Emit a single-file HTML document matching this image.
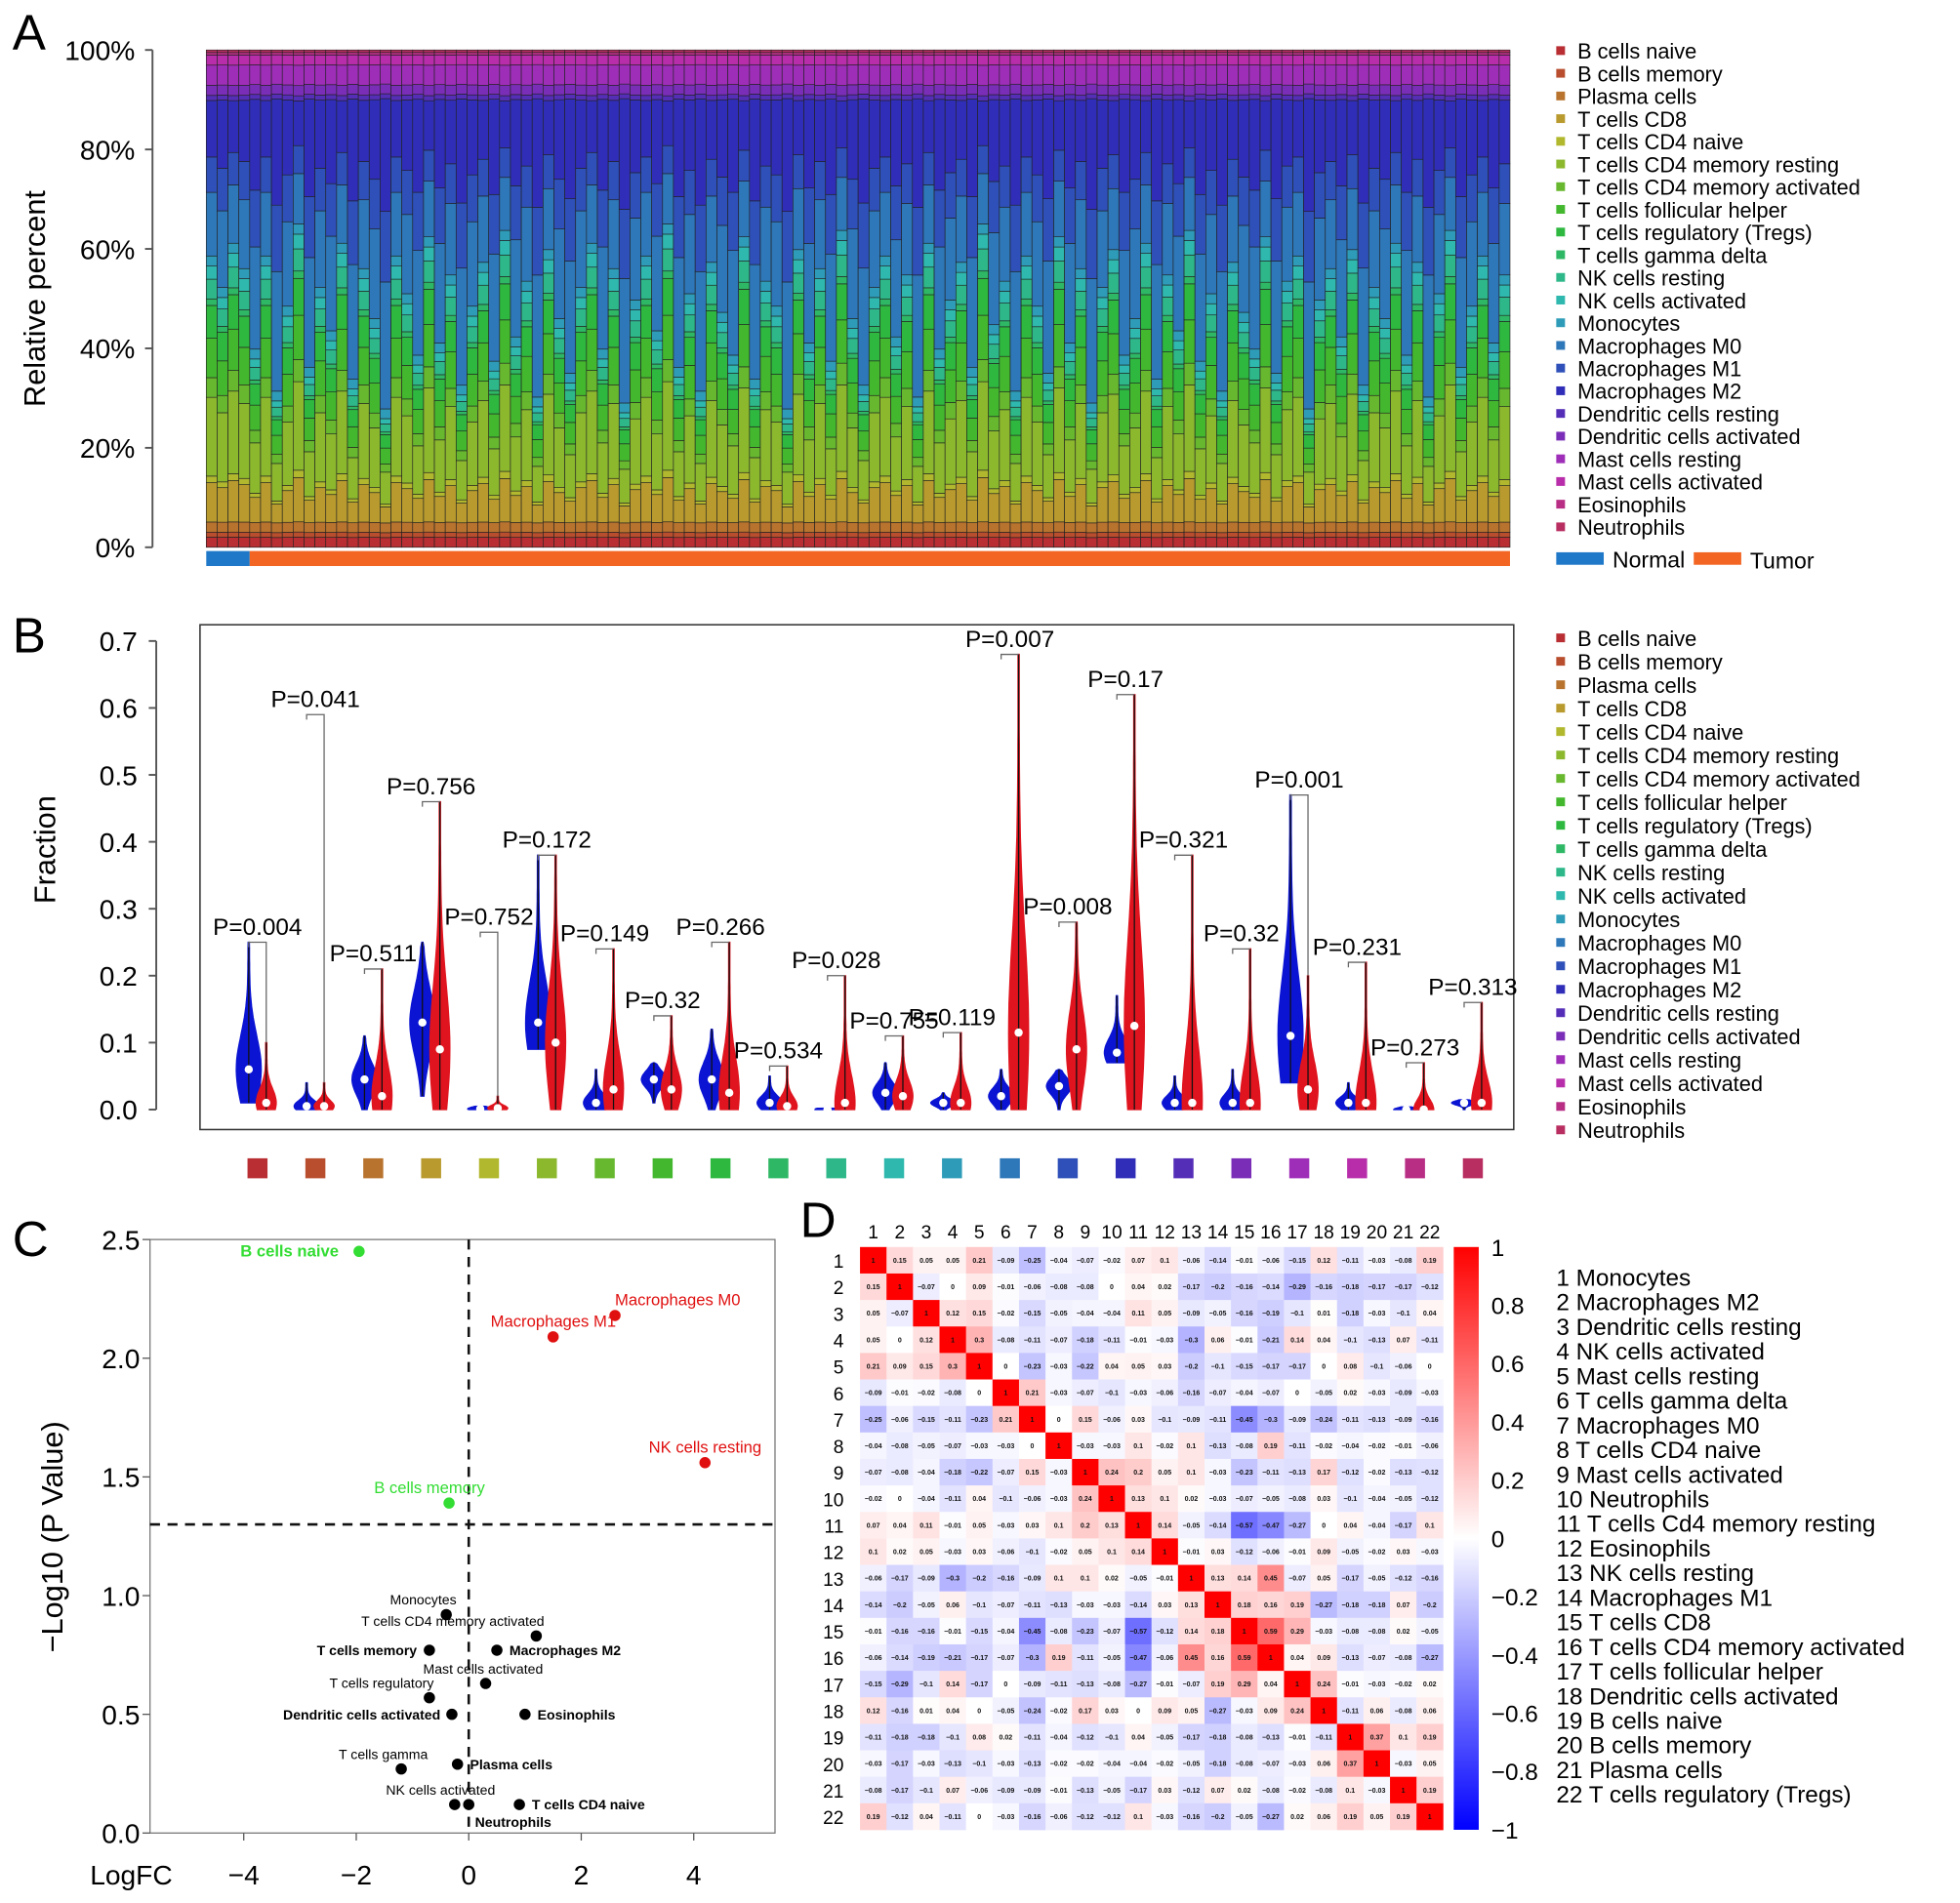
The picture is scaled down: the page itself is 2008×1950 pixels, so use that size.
<!DOCTYPE html>
<html><head><meta charset="utf-8"><style>
html,body{margin:0;padding:0;background:#fff}
svg{display:block;font-family:"Liberation Sans",Arial,sans-serif}
</style></head><body>
<svg id="fig" width="2008" height="1950" viewBox="0 0 1568 1523" preserveAspectRatio="none" xmlns="http://www.w3.org/2000/svg">
<g id="pA"></g>
<g id="pB"></g>
<g id="pC"></g>
<g id="pD"></g>
</svg>
<script>
const cellTypes=["B cells naive","B cells memory","Plasma cells","T cells CD8","T cells CD4 naive","T cells CD4 memory resting","T cells CD4 memory activated","T cells follicular helper","T cells regulatory (Tregs)","T cells gamma delta","NK cells resting","NK cells activated","Monocytes","Macrophages M0","Macrophages M1","Macrophages M2","Dendritic cells resting","Dendritic cells activated","Mast cells resting","Mast cells activated","Eosinophils","Neutrophils"];
const meanComposition=[0.02,0.01,0.02,0.06,0.01,0.12,0.03,0.06,0.05,0.01,0.03,0.02,0.02,0.18,0.1,0.16,0.01,0.02,0.04,0.02,0.005,0.005];
const sampleShift=[0.1,0.05,0.12,0.08,-0.05,0.1,-0.12,0.02,0.15,-0.08,0.05,-0.02,0.12,-0.1,0.08,0.0,-0.15,0.1,0.04,-0.06,0.13,-0.04,0.07,-0.11,0.02,0.09,-0.07,0.14,-0.03,0.06,-0.13,0.11,0.0,-0.09,0.05,0.12,-0.05,0.08,-0.14,0.03,0.1,-0.02,0.15,-0.08,0.04,-0.12,0.09,0.01,-0.06,0.13,-0.1,0.06,0.02,-0.15,0.11,-0.04,0.08,-0.07,0.14,0.0,-0.11,0.05,0.1,-0.03,0.07,-0.13,0.12,-0.05,0.03,0.09,-0.08,0.15,-0.01,0.06,-0.12,0.1,0.02,-0.09,0.13,-0.04,0.08,-0.14,0.05,0.11,-0.06,0.0,0.12,-0.1,0.07,-0.02,0.14,-0.07,0.04,-0.12,0.09,0.01,-0.05,0.13,-0.09,0.06,0.1,-0.15,0.03,0.08,-0.03,0.11,-0.11,0.05,0.0,0.12,-0.06,0.09,-0.13,0.04,0.14,-0.08,0.02,0.1,-0.04,0.07];
const normalCount=4;
const yTicksA=["0%","20%","40%","60%","80%","100%"];
// Panel B
const bBlueMin=[0.01,0,0,0.02,0,0.09,0,0.01,0,0,0,0,0,0,0,0.07,0,0,0.04,0,0,0];
const bBlueMax=[0.25,0.04,0.11,0.25,0.005,0.38,0.06,0.07,0.12,0.05,0.002,0.07,0.025,0.06,0.06,0.17,0.05,0.06,0.47,0.04,0.004,0.015];
const bBlueMed=[0.06,0.005,0.045,0.13,0.001,0.13,0.01,0.045,0.045,0.01,0.0,0.025,0.01,0.02,0.035,0.085,0.01,0.01,0.11,0.01,0.0,0.01];
const bRedMin=[0,0,0,0,0,0,0,0,0,0,0,0,0,0,0,0,0,0,0,0,0,0];
const bRedMax=[0.1,0.04,0.21,0.46,0.02,0.38,0.24,0.14,0.25,0.065,0.2,0.11,0.115,0.68,0.28,0.62,0.38,0.24,0.2,0.22,0.07,0.16];
const bRedMed=[0.01,0.005,0.02,0.09,0.002,0.1,0.03,0.03,0.025,0.005,0.01,0.02,0.01,0.115,0.09,0.125,0.01,0.01,0.03,0.01,0.0,0.01];
const bTop=[0.25,0.59,0.21,0.46,0.265,0.38,0.24,0.14,0.25,0.065,0.2,0.11,0.115,0.68,0.28,0.62,0.38,0.24,0.47,0.22,0.07,0.16];
const bPvals=["P=0.004","P=0.041","P=0.511","P=0.756","P=0.752","P=0.172","P=0.149","P=0.32","P=0.266","P=0.534","P=0.028","P=0.755","P=0.119","P=0.007","P=0.008","P=0.17","P=0.321","P=0.32","P=0.001","P=0.231","P=0.273","P=0.313"];
const yTicksB=[0,0.1,0.2,0.3,0.4,0.5,0.6,0.7];
// Panel C
const cLabels=["B cells naive","Macrophages M0","Macrophages M1","NK cells resting","B cells memory","Monocytes","T cells CD4 memory activated","T cells memory","Macrophages M2","Mast cells activated","T cells regulatory","Dendritic cells activated","Eosinophils","T cells gamma","Plasma cells","NK cells activated","Neutrophils","T cells CD4 naive"];
const cLogFC=[-1.95,2.6,1.5,4.2,-0.35,-0.4,1.2,-0.7,0.5,0.3,-0.7,-0.3,1.0,-1.2,-0.2,-0.25,0.0,0.9];
const cLogP=[2.45,2.18,2.09,1.56,1.39,0.92,0.83,0.77,0.77,0.63,0.57,0.5,0.5,0.27,0.29,0.12,0.12,0.12];
const cGroup=["up","dn","dn","dn","up","ns","ns","ns","ns","ns","ns","ns","ns","ns","ns","ns","ns","ns"];
const cBold=[1,0,0,0,0,0,0,1,1,0,0,1,1,0,1,0,1,1];
const cLabelDx=[-95,0,-50,-45,-60,-45,-140,-90,10,-50,-80,-135,10,-50,10,-55,5,10];
const cLabelDy=[0,-12,-12,-12,-12,-12,-12,0,0,-12,-12,0,0,-12,0,-12,14,0];
const xTicksC=[-4,-2,0,2,4];
const yTicksC=[0,0.5,1,1.5,2,2.5];
// Panel D
const dNames=["Monocytes","Macrophages M2","Dendritic cells resting","NK cells activated","Mast cells resting","T cells gamma delta","Macrophages M0","T cells CD4 naive","Mast cells activated","Neutrophils","T cells Cd4 memory resting","Eosinophils","NK cells resting","Macrophages M1","T cells CD8","T cells CD4 memory activated","T cells follicular helper","Dendritic cells activated","B cells naive","B cells memory","Plasma cells","T cells regulatory (Tregs)"];
const corrMatrix=[
[1,0.15,0.05,0.05,0.21,-0.09,-0.25,-0.04,-0.07,-0.02,0.07,0.1,-0.06,-0.14,-0.01,-0.06,-0.15,0.12,-0.11,-0.03,-0.08,0.19],
[0.15,1,-0.07,0,0.09,-0.01,-0.06,-0.08,-0.08,0,0.04,0.02,-0.17,-0.2,-0.16,-0.14,-0.29,-0.16,-0.18,-0.17,-0.17,-0.12],
[0.05,-0.07,1,0.12,0.15,-0.02,-0.15,-0.05,-0.04,-0.04,0.11,0.05,-0.09,-0.05,-0.16,-0.19,-0.1,0.01,-0.18,-0.03,-0.1,0.04],
[0.05,0,0.12,1,0.3,-0.08,-0.11,-0.07,-0.18,-0.11,-0.01,-0.03,-0.3,0.06,-0.01,-0.21,0.14,0.04,-0.1,-0.13,0.07,-0.11],
[0.21,0.09,0.15,0.3,1,0,-0.23,-0.03,-0.22,0.04,0.05,0.03,-0.2,-0.1,-0.15,-0.17,-0.17,0,0.08,-0.1,-0.06,0],
[-0.09,-0.01,-0.02,-0.08,0,1,0.21,-0.03,-0.07,-0.1,-0.03,-0.06,-0.16,-0.07,-0.04,-0.07,0,-0.05,0.02,-0.03,-0.09,-0.03],
[-0.25,-0.06,-0.15,-0.11,-0.23,0.21,1,0,0.15,-0.06,0.03,-0.1,-0.09,-0.11,-0.45,-0.3,-0.09,-0.24,-0.11,-0.13,-0.09,-0.16],
[-0.04,-0.08,-0.05,-0.07,-0.03,-0.03,0,1,-0.03,-0.03,0.1,-0.02,0.1,-0.13,-0.08,0.19,-0.11,-0.02,-0.04,-0.02,-0.01,-0.06],
[-0.07,-0.08,-0.04,-0.18,-0.22,-0.07,0.15,-0.03,1,0.24,0.2,0.05,0.1,-0.03,-0.23,-0.11,-0.13,0.17,-0.12,-0.02,-0.13,-0.12],
[-0.02,0,-0.04,-0.11,0.04,-0.1,-0.06,-0.03,0.24,1,0.13,0.1,0.02,-0.03,-0.07,-0.05,-0.08,0.03,-0.1,-0.04,-0.05,-0.12],
[0.07,0.04,0.11,-0.01,0.05,-0.03,0.03,0.1,0.2,0.13,1,0.14,-0.05,-0.14,-0.57,-0.47,-0.27,0,0.04,-0.04,-0.17,0.1],
[0.1,0.02,0.05,-0.03,0.03,-0.06,-0.1,-0.02,0.05,0.1,0.14,1,-0.01,0.03,-0.12,-0.06,-0.01,0.09,-0.05,-0.02,0.03,-0.03],
[-0.06,-0.17,-0.09,-0.3,-0.2,-0.16,-0.09,0.1,0.1,0.02,-0.05,-0.01,1,0.13,0.14,0.45,-0.07,0.05,-0.17,-0.05,-0.12,-0.16],
[-0.14,-0.2,-0.05,0.06,-0.1,-0.07,-0.11,-0.13,-0.03,-0.03,-0.14,0.03,0.13,1,0.18,0.16,0.19,-0.27,-0.18,-0.18,0.07,-0.2],
[-0.01,-0.16,-0.16,-0.01,-0.15,-0.04,-0.45,-0.08,-0.23,-0.07,-0.57,-0.12,0.14,0.18,1,0.59,0.29,-0.03,-0.08,-0.08,0.02,-0.05],
[-0.06,-0.14,-0.19,-0.21,-0.17,-0.07,-0.3,0.19,-0.11,-0.05,-0.47,-0.06,0.45,0.16,0.59,1,0.04,0.09,-0.13,-0.07,-0.08,-0.27],
[-0.15,-0.29,-0.1,0.14,-0.17,0,-0.09,-0.11,-0.13,-0.08,-0.27,-0.01,-0.07,0.19,0.29,0.04,1,0.24,-0.01,-0.03,-0.02,0.02],
[0.12,-0.16,0.01,0.04,0,-0.05,-0.24,-0.02,0.17,0.03,0,0.09,0.05,-0.27,-0.03,0.09,0.24,1,-0.11,0.06,-0.08,0.06],
[-0.11,-0.18,-0.18,-0.1,0.08,0.02,-0.11,-0.04,-0.12,-0.1,0.04,-0.05,-0.17,-0.18,-0.08,-0.13,-0.01,-0.11,1,0.37,0.1,0.19],
[-0.03,-0.17,-0.03,-0.13,-0.1,-0.03,-0.13,-0.02,-0.02,-0.04,-0.04,-0.02,-0.05,-0.18,-0.08,-0.07,-0.03,0.06,0.37,1,-0.03,0.05],
[-0.08,-0.17,-0.1,0.07,-0.06,-0.09,-0.09,-0.01,-0.13,-0.05,-0.17,0.03,-0.12,0.07,0.02,-0.08,-0.02,-0.08,0.1,-0.03,1,0.19],
[0.19,-0.12,0.04,-0.11,0,-0.03,-0.16,-0.06,-0.12,-0.12,0.1,-0.03,-0.16,-0.2,-0.05,-0.27,0.02,0.06,0.19,0.05,0.19,1]];
const cbTicks=[1,0.8,0.6,0.4,0.2,0,-0.2,-0.4,-0.6,-0.8,-1];

const NS="http://www.w3.org/2000/svg";
function mk(parent,tag,attrs,text){const e=document.createElementNS(NS,tag);for(const k in attrs)e.setAttribute(k,attrs[k]);if(text!==undefined)e.textContent=text;parent.appendChild(e);return e;}
function col(i){const h=(358+i*340/21)%360;return `hsl(${h.toFixed(0)},60%,45%)`;}
const svg=document.getElementById('fig');

[["A",10,40],["B",10,522],["C",10,1005],["D",640,990]].forEach(p=>{
 const t=mk(svg,'text',{x:p[1],y:p[2],'font-size':40,fill:'#000'},p[0]);
 
 
});

// ===== Panel A =====
const pA=document.getElementById('pA');
const aX0=165,aX1=1208,aY0=438,aY1=40;
const aY=v=>aY0-(aY0-aY1)*v;
const nS=sampleShift.length, bw=(aX1-aX0)/nS;
sampleShift.forEach((s,j)=>{
 const comp=meanComposition.map((m,i)=>{ if(i>=3&&i<=11)return m*(1+3*s); if(i>=13&&i<=15)return m*(1-3*s); return m;});
 const tot=comp.reduce((a,b)=>a+b,0);
 let cum=0;
 const g=mk(pA,'g',{});
 
 
 comp.forEach((c,i)=>{
  const f=c/tot;
  const r=mk(g,'rect',{x:aX0+j*bw,y:aY(cum+f),width:bw,height:Math.max(0,aY(cum)-aY(cum+f)),fill:col(i),stroke:'#222','stroke-width':0.5});
  
  
  cum+=f;
 });
});
mk(pA,'line',{x1:122,y1:aY1,x2:122,y2:aY0,stroke:'#555','stroke-width':1.5});
yTicksA.forEach((t,i)=>{
 const y=aY(i/5);
 mk(pA,'line',{x1:116,y1:y,x2:122,y2:y,stroke:'#555','stroke-width':1.5});
 const tx=mk(pA,'text',{x:108,y:y+8,'font-size':22,'text-anchor':'end'},t);
 
 
});
{const t=mk(pA,'text',{x:36,y:239,'font-size':24,'text-anchor':'middle',transform:'rotate(-90 36 239)'},'Relative percent');
}
{const r=mk(pA,'rect',{x:aX0,y:441,width:normalCount*bw,height:12,fill:'#1f78c8'});
const r2=mk(pA,'rect',{x:aX0+normalCount*bw,y:441,width:(nS-normalCount)*bw,height:12,fill:'#f26522'});}
function legend(parent,x,y0,step,prefix){
 cellTypes.forEach((n,i)=>{
  const g=mk(parent,'g',{});
  
  
  mk(g,'rect',{x:x,y:y0+i*step-6,width:7,height:7,fill:col(i)});
  mk(g,'text',{x:x+17,y:y0+i*step+4,'font-size':17},n);
 });
}
legend(pA,1245,43,18.15,'legend-a');
{const g=mk(pA,'g',{});
mk(g,'rect',{x:1245,y:442,width:38,height:10,fill:'#1f78c8'});mk(g,'text',{x:1290,y:454,'font-size':18},'Normal');
mk(g,'rect',{x:1355,y:442,width:38,height:10,fill:'#f26522'});mk(g,'text',{x:1400,y:455,'font-size':18},'Tumor');}

// ===== Panel B =====
const pB=document.getElementById('pB');
const bY=v=>888-v*535.7;
const gx=k=>199+46.3*k;
mk(pB,'rect',{x:160,y:500,width:1051,height:404,fill:'none',stroke:'#333','stroke-width':1.2});
mk(pB,'line',{x1:125,y1:bY(0),x2:125,y2:bY(0.7),stroke:'#555','stroke-width':1.5});
yTicksB.forEach(v=>{
 mk(pB,'line',{x1:119,y1:bY(v),x2:125,y2:bY(v),stroke:'#555','stroke-width':1.5});
 const t=mk(pB,'text',{x:110,y:bY(v)+8,'font-size':22,'text-anchor':'end'},v.toFixed(1));
 
});
{const t=mk(pB,'text',{x:44,y:680,'font-size':24,'text-anchor':'middle',transform:'rotate(-90 44 680)'},'Fraction');
}
function violin(cx,mn,mx,md,W,fill,name){
 const g=mk(pB,'g',{});
 
 
 const s=Math.max((mx-mn)*0.3,0.004);
 const N=30,L=[],R=[];
 for(let i=0;i<=N;i++){const v=mn+(mx-mn)*i/N;let hw=W*(0.06+0.94*Math.exp(-Math.pow((v-md)/s,2)));if(i===N)hw=0.5;L.push([cx-hw,bY(v)]);R.push([cx+hw,bY(v)]);}
 const pts=L.concat(R.reverse()).map(p=>p[0].toFixed(1)+','+p[1].toFixed(1)).join(' ');
 mk(g,'polygon',{points:pts,fill:fill,stroke:fill,'stroke-width':1});
 mk(g,'line',{x1:cx,y1:bY(mn),x2:cx,y2:bY(mx),stroke:'#111','stroke-width':1});
 mk(g,'circle',{cx:cx,cy:bY(md),r:3.3,fill:'#fff'});
}
cellTypes.forEach((n,k)=>{
 const bx=gx(k),rx=bx+14;
 violin(bx,bBlueMin[k],bBlueMax[k],bBlueMed[k],10,'#0a14d2','violin-normal-'+(k+1));
 violin(rx,bRedMin[k],bRedMax[k],bRedMed[k],8,'#e0141e','violin-tumor-'+(k+1));
 const ty=bY(bTop[k]);
 const br=mk(pB,'path',{d:`M${bx},${ty+4} L${bx},${ty} L${rx},${ty} L${rx},${bY(bRedMax[k])}`,fill:'none',stroke:'#666','stroke-width':1});
 
 const t=mk(pB,'text',{x:(bx+rx)/2,y:ty-6,'font-size':19,'text-anchor':'middle'},bPvals[k]);
 
 const sq=mk(pB,'rect',{x:bx-1,y:927,width:16,height:16,fill:col(k)});
 
});
legend(pB,1245,513,18.75,'legend-b');

// ===== Panel C =====
const pC=document.getElementById('pC');
const cx=v=>375+v*45, cy=v=>1467-v*190;
mk(pC,'rect',{x:120,y:992,width:500,height:475,fill:'none',stroke:'#777','stroke-width':1});
mk(pC,'line',{x1:120,y1:cy(1.3),x2:620,y2:cy(1.3),stroke:'#111','stroke-width':2,'stroke-dasharray':'8,6'});
mk(pC,'line',{x1:cx(0),y1:992,x2:cx(0),y2:1467,stroke:'#111','stroke-width':2,'stroke-dasharray':'8,6'});
yTicksC.forEach(v=>{
 mk(pC,'line',{x1:114,y1:cy(v),x2:120,y2:cy(v),stroke:'#555'});
 const t=mk(pC,'text',{x:112,y:cy(v)+8,'font-size':22,'text-anchor':'end'},v.toFixed(1));
 
});
xTicksC.forEach(v=>{
 mk(pC,'line',{x1:cx(v),y1:1467,x2:cx(v),y2:1473,stroke:'#555'});
 const t=mk(pC,'text',{x:cx(v),y:1508,'font-size':22,'text-anchor':'middle'},v<0?'\u2212'+(-v):String(v));
 
});
{const t=mk(pC,'text',{x:105,y:1508,'font-size':22,'text-anchor':'middle'},'LogFC');
const t2=mk(pC,'text',{x:50,y:1230,'font-size':24,'text-anchor':'middle',transform:'rotate(-90 50 1230)'},'\u2212Log10 (P Value)');}
cLabels.forEach((n,i)=>{
 const c=cGroup[i]==='up'?'#33dd33':cGroup[i]==='dn'?'#e01010':'#000';
 const g=mk(pC,'g',{});
 
 
 const x=cx(cLogFC[i]),y=cy(cLogP[i]);
 mk(g,'circle',{cx:x,cy:y,r:4.5,fill:c});
 mk(g,'text',{x:x+cLabelDx[i],y:y+cLabelDy[i]+4,'font-size':cGroup[i]==='ns'?11:13,'font-weight':cBold[i]?'bold':'normal',fill:c},n);
});

// ===== Panel D =====
const pD=document.getElementById('pD');
const dX=688,dY=998,cs=21.2;
function corrColor(v){const a=Math.min(1,Math.abs(v));const k=Math.round(255*(1-a));if(v>=0)return `rgb(255,${k},${k})`;return `rgb(${k},${k},255)`;}
function fmt(v){if(v===1)return '1';let s=String(v);return s.replace('-','\u2212');}
corrMatrix.forEach((row,i)=>{
 row.forEach((v,j)=>{
  const g=mk(pD,'g',{});
  
  
  mk(g,'rect',{x:dX+j*cs,y:dY+i*cs,width:cs+0.3,height:cs+0.3,fill:corrColor(v)});
  mk(g,'text',{x:dX+j*cs+cs/2,y:dY+i*cs+cs/2+2,'font-size':5.5,'font-weight':'bold','text-anchor':'middle',fill:'#111'},fmt(v));
 });
 const t=mk(pD,'text',{x:dX+i*cs+cs/2,y:dY-7,'font-size':15,'text-anchor':'middle'},String(i+1));
 
 const t2=mk(pD,'text',{x:dX-13,y:dY+i*cs+cs/2+6,'font-size':15,'text-anchor':'end'},String(i+1));
 
 const t3=mk(pD,'text',{x:1245,y:dY+31+i*19.7,'font-size':19},(i+1)+' '+dNames[i]);
 
});
{const defs=mk(svg,'defs',{});const lg=mk(defs,'linearGradient',{id:'cbg',x1:0,y1:0,x2:0,y2:1});
mk(lg,'stop',{offset:'0%','stop-color':'#ff0000'});mk(lg,'stop',{offset:'50%','stop-color':'#ffffff'});mk(lg,'stop',{offset:'100%','stop-color':'#0000ff'});
const r=mk(pD,'rect',{x:1163,y:dY,width:20,height:22*cs,fill:'url(#cbg)'});}
cbTicks.forEach(v=>{
 const y=dY+(1-v)/2*22*cs;
 const t=mk(pD,'text',{x:1193,y:y+7,'font-size':19},v<0?'\u2212'+(-v):String(v));
 
});
</script>
</body></html>
